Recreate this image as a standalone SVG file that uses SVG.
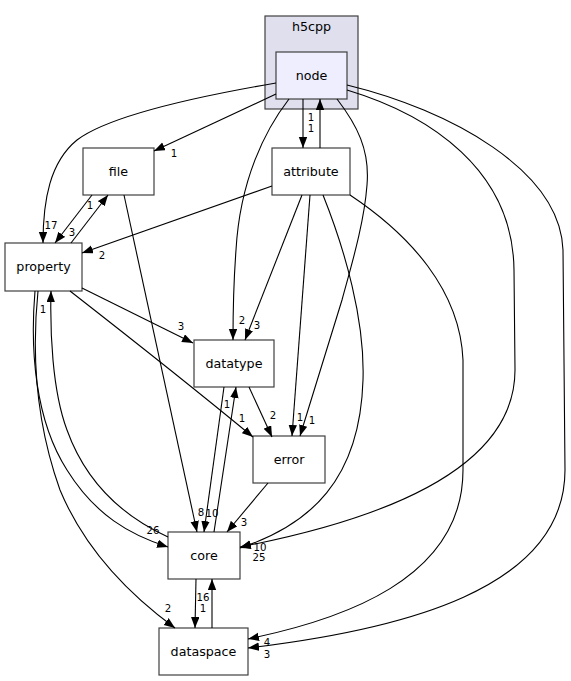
<svg xmlns="http://www.w3.org/2000/svg" width="571" height="681" viewBox="0 0 571 681">
<style>
.n rect{fill:#ffffff;stroke:#404040;stroke-width:1.2}
.n text{font-family:"DejaVu Sans",sans-serif;font-size:12.7px;text-anchor:middle;fill:#000}
.e path{fill:none;stroke:#000;stroke-width:1.1;marker-end:url(#ah)}
.l text{font-family:"DejaVu Sans",sans-serif;font-size:10.2px;text-anchor:middle;fill:#000}
</style>
<defs>
<marker id="ah" markerUnits="userSpaceOnUse" markerWidth="12" markerHeight="9" refX="11" refY="4.2" orient="auto">
<path d="M0,0 L11,4.2 L0,8.4 z" fill="#000"/>
</marker>
</defs>
<rect width="571" height="681" fill="#fff"/>
<g id="cluster_h5cpp">
<rect x="265" y="16" width="93" height="93" fill="#dfdfee" stroke="#404040" stroke-width="1.2"/>
<text x="311.5" y="31" font-family="DejaVu Sans,sans-serif" font-size="12.7px" text-anchor="middle">h5cpp</text>
</g>
<g id="node" class="n"><rect x="276" y="52" width="71" height="47" style="fill:#eeeeff"/><text x="311.5" y="80">node</text></g>
<g id="file" class="n"><rect x="83" y="148" width="71" height="47"/><text x="118.5" y="176">file</text></g>
<g id="attribute" class="n"><rect x="272" y="148" width="78" height="47"/><text x="311" y="176">attribute</text></g>
<g id="property" class="n"><rect x="5" y="243" width="77" height="48"/><text x="43.5" y="271">property</text></g>
<g id="datatype" class="n"><rect x="194" y="340" width="80" height="47"/><text x="234" y="368">datatype</text></g>
<g id="error" class="n"><rect x="253" y="436" width="72" height="47"/><text x="289" y="464">error</text></g>
<g id="core" class="n"><rect x="168" y="532" width="72" height="47"/><text x="204" y="560">core</text></g>
<g id="dataspace" class="n"><rect x="159" y="628" width="89" height="47"/><text x="203.5" y="656">dataspace</text></g>
<g id="connectors" class="e">
<path d="M276,94 L154,151"/>
<path d="M276,83 C200,96 110,115 77,140 C50,162 43,200 43,243"/>
<path d="M303,99 L303,148"/>
<path d="M320,148 L320,99"/>
<path d="M289,99 C265,130 240,180 236,250 C233,290 233,320 233,340"/>
<path d="M337,99 C357,125 370,150 367,185 C364,225 350,270 342,300 L300,436"/>
<path d="M310,195 L292,436"/>
<path d="M302,195 L245,340"/>
<path d="M323,195 C345,250 365,320 363,380 C360,480 310,525 240,548"/>
<path d="M347,90 C430,115 513,170 514,270 L515,370 C515,470 380,520 240,547"/>
<path d="M350,195 C410,235 460,290 463,360 L463,470 C463,580 340,620 248,639"/>
<path d="M347,85 C450,110 560,170 563,250 L565,470 C565,590 400,630 248,648"/>
<path d="M272,186 L82,253"/>
<path d="M92,195 L55,243"/>
<path d="M71,243 L108,195"/>
<path d="M124,195 L197,532"/>
<path d="M82,288 L193,343"/>
<path d="M70,291 C120,330 190,385 253,437"/>
<path d="M35,291 C30,350 35,420 67,470 C95,515 130,535 168,547"/>
<path d="M168,537 C120,515 85,480 67,430 C52,390 50,330 51,291"/>
<path d="M38,291 C32,350 35,420 60,490 C85,550 130,595 175,628"/>
<path d="M249,387 L272,437"/>
<path d="M224,387 L204,532"/>
<path d="M214,532 L236,387"/>
<path d="M268,483 L227,532"/>
<path d="M196,579 L195,628"/>
<path d="M212,628 L212,579"/>
</g>
<g id="labels" class="l">
<text x="174" y="157">1</text>
<text x="51" y="229">17</text>
<text x="72" y="236">3</text>
<text x="90" y="209">1</text>
<text x="102" y="259">2</text>
<text x="311" y="121">1</text>
<text x="311" y="132">1</text>
<text x="242" y="324">2</text>
<text x="257" y="329">3</text>
<text x="181" y="330">3</text>
<text x="227" y="408">1</text>
<text x="242" y="422">1</text>
<text x="273" y="419">2</text>
<text x="300" y="421">1</text>
<text x="312" y="424">1</text>
<text x="201" y="516">8</text>
<text x="212" y="517">10</text>
<text x="244" y="526">3</text>
<text x="153" y="534">26</text>
<text x="260" y="551">10</text>
<text x="259" y="561">25</text>
<text x="203" y="601">16</text>
<text x="203" y="612">1</text>
<text x="168" y="612">2</text>
<text x="267" y="646">4</text>
<text x="267" y="658">3</text>
<text x="43" y="313">1</text>
</g>
</svg>
